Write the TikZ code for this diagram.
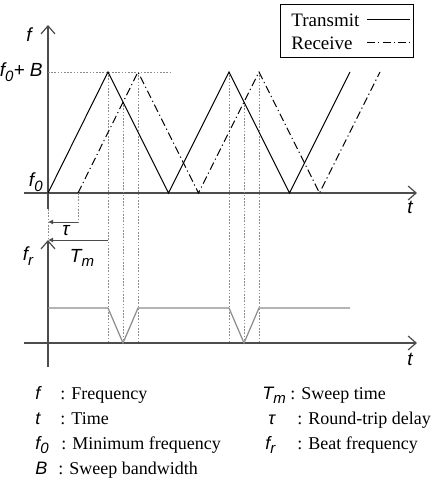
\documentclass[tikz,border=0pt]{standalone}
\usepackage{fontspec}
\setmainfont{Liberation Serif}
\newfontfamily\symfont{Liberation Sans}
\usetikzlibrary{arrows.meta}
\newcommand{\sy}[1]{{\symfont\itshape #1}}
\newcommand{\sysub}[2]{{\symfont\itshape #1\raisebox{-.45ex}{\fontsize{7.5}{8}\selectfont #2}}}

\begin{document}
\begin{tikzpicture}[
  x=0.5pt, y=-0.5pt,
  font=\fontsize{9.5}{11}\selectfont,
  axis/.style={draw=black!70,line width=0.6pt,-{Straight Barb[length=4pt,width=7pt]}},
  tx/.style={line width=0.5pt},
  rx/.style={line width=0.5pt,dash pattern=on 4pt off 1.6pt on 0.6pt off 1.6pt},
  guide/.style={draw=black!45,line width=0.4pt,dash pattern=on 0.8pt off 0.8pt},
  beat/.style={draw=black!45,line width=0.6pt},
  span/.style={draw=black!70,line width=0.5pt,-{Latex[length=2.5pt,width=2.5pt]}},
  sym/.style={font=\fontsize{9.5}{10}\selectfont,inner sep=1pt},
  lab/.style={inner sep=1pt,anchor=west},
  item/.style={font=\fontsize{9}{10}\selectfont,inner sep=0pt,anchor=base west}
]
\useasboundingbox (0,0) rectangle (433,492);

% upper plot: transmit / receive sweeps
\coordinate (o1) at (48,193);
\draw[axis] (48,209) -- (48,25);
\draw[axis] (24,193) -- (417,193);
\draw[guide] (48,72) -- (172,72);
\draw[guide] (48,209) -- (48,240);
\draw[guide] (78,193) -- (78,222);
\foreach \xa in {108,229} {
  \draw[guide] (\xa,72) -- (\xa,343);
  \draw[guide] (\xa+15,102) -- (\xa+15,343);
  \draw[guide] (\xa+30,72) -- (\xa+30,343);
}
\draw[tx] (o1) -- (108,72) -- (168.5,193) -- (229,72) -- (289.5,193) -- (350,72);
\draw[rx] (78,193) -- (138,72) -- (198.5,193) -- (259,72) -- (319.5,193) -- (380,72);

\node[sym] (f) at (29,35) {\sy{f}};
\node[sym,anchor=east] (fB) at (45,72) {\sysub{f}{0}\sy{+ B}};
\node[sym,anchor=east] (f0) at (45,182) {\sysub{f}{0}};
\node[sym] (t1) at (410,207) {\sy{t}};

% delays
\draw[span] (78,222) -- (48,222);
\draw[span] (108,240) -- (48,240);
\node[sym] (tau) at (66,231) {\sy{τ}};
\node[sym] (Tm) at (82,258) {\sysub{T}{m}};

% lower plot: beat frequency
\draw[axis] (48,367) -- (48,240);
\draw[axis] (24,343) -- (417,343);
\draw[beat] (48,308) -- (108,308) -- (123,343) -- (138,308) -- (229,308) -- (244,343) -- (259,308) -- (350,308);
\node[sym] (fr) at (28,256) {\sysub{f}{r}};
\node[sym] (t2) at (410,359) {\sy{t}};

% legend box
\node[draw,line width=0.5pt,minimum width=66.5pt,minimum height=26.5pt] (key) at (346.5,31.5) {};
\node[lab] (ktx) at (289,20) {Transmit};
\node[lab] (krx) at (289,43) {Receive};
\draw[tx] (367,20) -- (410,20);
\draw[rx] (367,43) -- (410,43);

% symbol list
\node[item] (s1) at (35,399) {\sy{f}};
\node[item] at (60,399) {: Frequency};
\node[item] (s2) at (35,424) {\sy{t}};
\node[item] at (60,424) {: Time};
\node[item] (s3) at (35,449) {\sysub{f}{0}};
\node[item] at (61,449) {: Minimum frequency};
\node[item] (s4) at (35,474) {\sy{B}};
\node[item] at (58,474) {: Sweep bandwidth};
\node[item] (s5) at (262,399) {\sysub{T}{m}};
\node[item] at (290,399) {: Sweep time};
\node[item] (s6) at (268,424) {\sy{τ}};
\node[item] at (297,424) {: Round-trip delay};
\node[item] (s7) at (265,449) {\sysub{f}{r}};
\node[item] at (297,449) {: Beat frequency};
\end{tikzpicture}
\end{document}
